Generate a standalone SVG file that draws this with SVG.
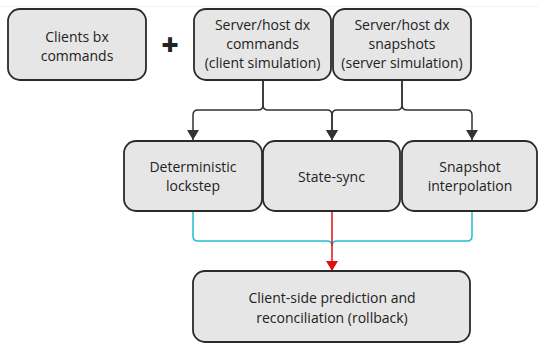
<svg xmlns="http://www.w3.org/2000/svg" width="538" height="343" viewBox="0 0 538 343">
<style>
.box{fill:#e6e6e6;stroke:#2b2b2b;stroke-width:1.8}
.t{font-family:"Open Sans","Noto Sans",sans-serif;font-size:14px;fill:#222;text-anchor:middle}
.c{fill:none;stroke:#333;stroke-width:1.5}
.teal{fill:none;stroke:#22c0cc;stroke-width:1.5}
.red{fill:none;stroke:#e01010;stroke-width:1.5}
</style>
<defs>
<marker id="ah" viewBox="0 0 10 12" refX="10" refY="6" markerWidth="10" markerHeight="12" markerUnits="userSpaceOnUse" orient="auto"><path d="M0,0 L10,6 L0,12 z" fill="#333"/></marker>
<marker id="ahr" viewBox="0 0 10 12" refX="10" refY="6" markerWidth="10" markerHeight="12" markerUnits="userSpaceOnUse" orient="auto"><path d="M0,0 L10,6 L0,12 z" fill="#e01010"/></marker>
</defs>
<rect width="538" height="343" fill="#fff"/>
<line x1="0" y1="6.5" x2="538" y2="6.5" stroke="#f2f2f2" stroke-width="1"/>
<g id="connectors">
<path class="c" d="M263,80 V105 Q263,110 258,110 H198 Q193,110 193,115 V140" marker-end="url(#ah)"/>
<path class="c" d="M263,80 V105 Q263,110 268,110 H327 Q332,110 332,115 V140" marker-end="url(#ah)"/>
<path class="c" d="M402,80 V105 Q402,110 397,110 H337 Q332,110 332,115 V140" marker-end="url(#ah)"/>
<path class="c" d="M402,80 V105 Q402,110 407,110 H467 Q472,110 472,115 V140" marker-end="url(#ah)"/>
<path class="teal" d="M193,211 V236 Q193,241 198,241 H327 Q332,241 332,246"/>
<path class="teal" d="M472,211 V236 Q472,241 467,241 H337 Q332,241 332,246"/>
<path class="red" d="M332,211 V271" marker-end="url(#ahr)"/>
</g>
<text x="170" y="55" style="font-family:'Open Sans',sans-serif;font-size:30px;font-weight:800;fill:#222;text-anchor:middle">+</text>
<g id="clients-bx">
<rect class="box" x="8" y="9" width="138" height="71" rx="12"/>
<text class="t" x="77" y="42">Clients bx</text>
<text class="t" x="77" y="61">commands</text>
</g>
<g id="server-commands">
<rect class="box" x="194" y="9" width="137" height="71" rx="12"/>
<text class="t" x="262.5" y="30">Server/host dx</text>
<text class="t" x="262.5" y="49">commands</text>
<text class="t" x="262.5" y="68">(client simulation)</text>
</g>
<g id="server-snapshots">
<rect class="box" x="333" y="9" width="138" height="71" rx="12"/>
<text class="t" x="402" y="30">Server/host dx</text>
<text class="t" x="402" y="49">snapshots</text>
<text class="t" x="402" y="68">(server simulation)</text>
</g>
<g id="lockstep">
<rect class="box" x="124" y="141" width="138" height="70" rx="12"/>
<text class="t" x="193" y="172">Deterministic</text>
<text class="t" x="193" y="191">lockstep</text>
</g>
<g id="state-sync">
<rect class="box" x="263" y="141" width="137" height="70" rx="12"/>
<text class="t" x="331.5" y="182">State-sync</text>
</g>
<g id="snapshot-interp">
<rect class="box" x="402" y="141" width="135" height="70" rx="12"/>
<text class="t" x="470" y="172">Snapshot</text>
<text class="t" x="470" y="191">interpolation</text>
</g>
<g id="rollback">
<rect class="box" x="193" y="271" width="277" height="71" rx="12"/>
<text class="t" x="332" y="303">Client-side prediction and</text>
<text class="t" x="332" y="323">reconciliation (rollback)</text>
</g>
</svg>
